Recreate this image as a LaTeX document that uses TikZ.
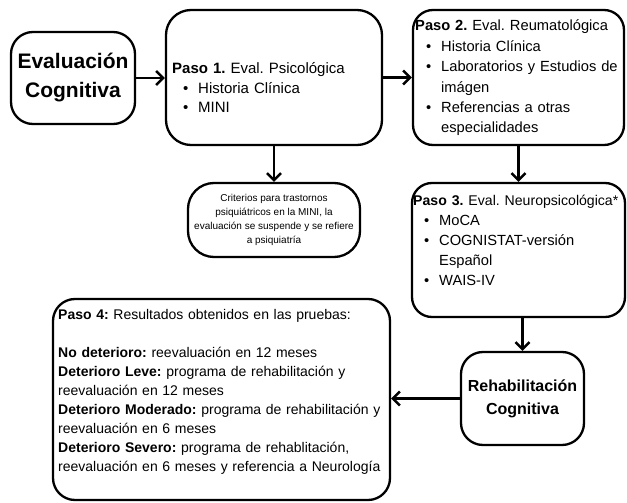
\documentclass[tikz,border=0pt]{standalone}
\usepackage{fontspec}
\setmainfont{Liberation Sans}
\usetikzlibrary{arrows.meta}
\frenchspacing
\hyphenpenalty=10000
\newcommand\bitem{\hspace*{11pt}\makebox[15pt][l]{\textbullet}}
\newcommand\bcont{\hspace*{26pt}}
\tikzset{
  box/.style={draw, line width=2.3pt, rounded corners=22pt, inner sep=0pt},
  arr/.style={line width=2.5pt, -{Straight Barb[length=7pt,width=14pt]}},
  txt/.style={inner sep=0pt, anchor=base west, align=left, text width=#1},
  txt/.default=260pt,
}
\begin{document}
\begin{tikzpicture}[x=1pt,y=-1pt]
\useasboundingbox (0,0) rectangle (627,503);
\fill[white] (0,0) rectangle (627,503);
% boxes
\node[box, minimum width=124pt, minimum height=92pt, align=center,
      font=\fontsize{21}{29}\selectfont\bfseries] (A) at (73,78) {Evaluación\\Cognitiva};
\node[box, minimum width=216pt, minimum height=135pt, rounded corners=25pt] (B) at (274,77.5) {};
\node[txt, font=\fontsize{15}{19.5}\selectfont] (Bt) at (172,74)
  {\textbf{Paso 1.} Eval. Psicológica\\\bitem Historia Clínica\\\bitem MINI};
\node[box, minimum width=211pt, minimum height=135pt, rounded corners=20pt] (C) at (518.5,77.5) {};
\node[txt, font=\fontsize{14.7}{20.4}\selectfont] (Ct) at (415,31)
  {\textbf{Paso 2.} Eval. Reumatológica\\\bitem Historia Clínica\\\bitem Laboratorios y Estudios de\\\bcont imágen\\\bitem Referencias a otras\\\bcont especialidades};
\node[box, minimum width=172pt, minimum height=74pt, rounded corners=26pt, align=center,
      font=\fontsize{10}{14}\selectfont] (D) at (274,220)
  {Criterios para trastornos\\psiquiátricos en la MINI, la\\evaluación se suspende y se refiere\\a psiquiatría};
\node[box, minimum width=213pt, minimum height=134pt, rounded corners=20pt] (E) at (518.5,250) {};
\node[txt, font=\fontsize{14.7}{20}\selectfont] (Et) at (413,205)
  {{\fontsize{14.1}{20}\selectfont\textbf{Paso 3.} Eval. Neuropsicológica*}\\\bitem MoCA\\\bitem COGNISTAT-versión\\\bcont Español\\\bitem WAIS-IV};
\node[box, minimum width=123pt, minimum height=93pt, align=center,
      font=\fontsize{16}{23}\selectfont\bfseries] (F) at (522.5,398.5) {Rehabilitación\\Cognitiva};
\node[box, minimum width=337pt, minimum height=201pt] (G) at (221.5,399.5) {};
\node[txt=360pt, font=\fontsize{14}{19}\selectfont] (Gt) at (58,319)
  {\textbf{Paso 4:} Resultados obtenidos en las pruebas:\\[19pt]
   \textbf{No deterioro:} reevaluación en 12 meses\\
   \textbf{Deterioro Leve:} programa de rehabilitación y\\
   reevaluación en 12 meses\\
   \textbf{Deterioro Moderado:} programa de rehabilitación y\\
   reevaluación en 6 meses\\
   \textbf{Deterioro Severo:} programa de rehablitación,\\
   reevaluación en 6 meses y referencia a Neurología};
% connectors
\draw[arr] (A.east) -- (A.east -| B.west);
\draw[arr] (B.east) -- (B.east -| C.west);
\draw[arr] (B.south) -- (D.north);
\draw[arr] (C.south) -- (E.north);
\draw[arr] (F.north |- E.south) -- (F.north);
\draw[arr] (F.west) -- (F.west -| G.east);
\end{tikzpicture}
\end{document}
